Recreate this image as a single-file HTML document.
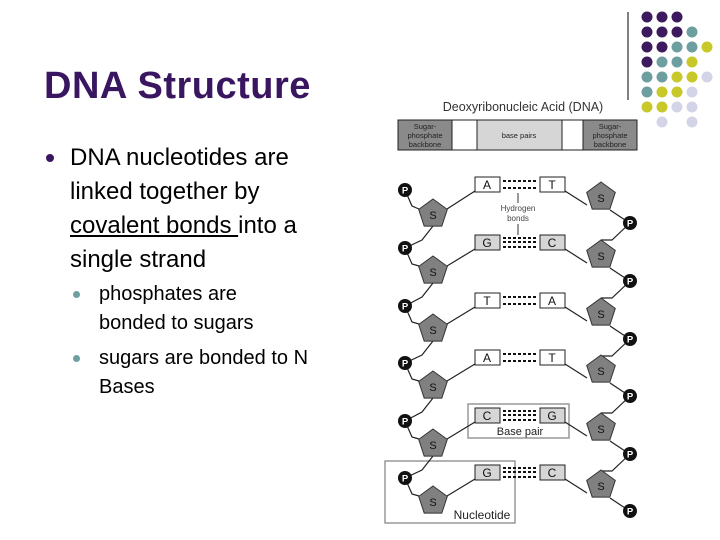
<!DOCTYPE html>
<html><head><meta charset="utf-8"><style>
body{margin:0;width:720px;height:540px;background:#fff;overflow:hidden;font-family:"Liberation Sans",sans-serif;position:relative}
.t{position:absolute;left:44px;top:65px;font-size:38px;font-weight:bold;color:#3a1560;letter-spacing:0.5px}
.m{position:absolute;left:70px;top:141px;font-size:24px;line-height:34px;color:#000}
.s{position:absolute;left:99px;font-size:20px;line-height:29px;color:#000}
.b1{position:absolute;left:46px;top:154px;width:8px;height:8px;border-radius:50%;background:#3a1560}
.b2{position:absolute;left:73px;width:7px;height:7px;border-radius:50%;background:#6e9fa0}
</style></head><body>
<div class="t">DNA Structure</div>
<div class="b1"></div>
<div class="m">DNA nucleotides are<br>linked together by<br><u>covalent bonds </u>into a<br>single strand</div>
<div class="b2" style="top:291px"></div>
<div class="b2" style="top:355px"></div>
<div class="s" style="top:280px">phosphates are<br>bonded to sugars</div>
<div class="s" style="top:344px">sugars are bonded to N<br>Bases</div>
<svg width="720" height="540" style="position:absolute;left:0;top:0" font-family="Liberation Sans,sans-serif">
<line x1="628" y1="12" x2="628" y2="100" stroke="#000" stroke-width="1"/>
<g>
<circle cx="647" cy="17" r="5.5" fill="#3d1a5e"/><circle cx="662" cy="17" r="5.5" fill="#3d1a5e"/><circle cx="677" cy="17" r="5.5" fill="#3d1a5e"/>
<circle cx="647" cy="32" r="5.5" fill="#3d1a5e"/><circle cx="662" cy="32" r="5.5" fill="#3d1a5e"/><circle cx="677" cy="32" r="5.5" fill="#3d1a5e"/><circle cx="692" cy="32" r="5.5" fill="#6e9fa0"/>
<circle cx="647" cy="47" r="5.5" fill="#3d1a5e"/><circle cx="662" cy="47" r="5.5" fill="#3d1a5e"/><circle cx="677" cy="47" r="5.5" fill="#6e9fa0"/><circle cx="692" cy="47" r="5.5" fill="#6e9fa0"/><circle cx="707" cy="47" r="5.5" fill="#c8c828"/>
<circle cx="647" cy="62" r="5.5" fill="#3d1a5e"/><circle cx="662" cy="62" r="5.5" fill="#6e9fa0"/><circle cx="677" cy="62" r="5.5" fill="#6e9fa0"/><circle cx="692" cy="62" r="5.5" fill="#c8c828"/>
<circle cx="647" cy="77" r="5.5" fill="#6e9fa0"/><circle cx="662" cy="77" r="5.5" fill="#6e9fa0"/><circle cx="677" cy="77" r="5.5" fill="#c8c828"/><circle cx="692" cy="77" r="5.5" fill="#c8c828"/><circle cx="707" cy="77" r="5.5" fill="#d4d4e8"/>
<circle cx="647" cy="92" r="5.5" fill="#6e9fa0"/><circle cx="662" cy="92" r="5.5" fill="#c8c828"/><circle cx="677" cy="92" r="5.5" fill="#c8c828"/><circle cx="692" cy="92" r="5.5" fill="#d4d4e8"/>
<circle cx="647" cy="107" r="5.5" fill="#c8c828"/><circle cx="662" cy="107" r="5.5" fill="#c8c828"/><circle cx="677" cy="107" r="5.5" fill="#d4d4e8"/><circle cx="692" cy="107" r="5.5" fill="#d4d4e8"/>
<circle cx="662" cy="122" r="5.5" fill="#d4d4e8"/><circle cx="692" cy="122" r="5.5" fill="#d4d4e8"/>
</g>
<text x="523" y="111" font-size="12.5" text-anchor="middle" fill="#333">Deoxyribonucleic Acid (DNA)</text>
<g stroke="#222" stroke-width="1">
<rect x="398" y="120" width="54" height="30" fill="#8a8a8a"/>
<rect x="452" y="120" width="25" height="30" fill="#fff"/>
<rect x="477" y="120" width="85" height="30" fill="#d6d6d6"/>
<rect x="562" y="120" width="21" height="30" fill="#fff"/>
<rect x="583" y="120" width="54" height="30" fill="#8a8a8a"/>
</g>
<g font-size="7.5" fill="#222" text-anchor="middle">
<text x="425" y="129">Sugar-</text><text x="425" y="138">phosphate</text><text x="425" y="147">backbone</text>
<text x="519" y="138">base pairs</text>
<text x="610" y="129">Sugar-</text><text x="610" y="138">phosphate</text><text x="610" y="147">backbone</text>
</g>
<text x="518" y="211" font-size="8" text-anchor="middle" fill="#444">Hydrogen</text>
<text x="518" y="221" font-size="8" text-anchor="middle" fill="#444">bonds</text>
<line x1="518" y1="193" x2="518" y2="203" stroke="#333"/><line x1="518" y1="224" x2="518" y2="235" stroke="#333"/>
<rect x="468" y="404" width="101" height="34" fill="none" stroke="#999" stroke-width="1.5"/>
<text x="520" y="435" font-size="11" text-anchor="middle" fill="#222">Base pair</text>
<rect x="385" y="461" width="130" height="62" fill="none" stroke="#999" stroke-width="1.5"/>
<text x="482" y="519" font-size="12" text-anchor="middle" fill="#222">Nucleotide</text>
<defs>
<polygon id="pent" points="0,-15 14.3,-4.6 8.8,12.1 -8.8,12.1 -14.3,-4.6" fill="#808080" stroke="#333" stroke-width="1"/>
<g id="ph"><circle r="7" fill="#111"/><text y="3.5" font-size="9.5" font-weight="bold" fill="#fff" text-anchor="middle">P</text></g>
</defs>
<g stroke="#222" stroke-width="1.2" fill="none">
<polyline points="405,190 412,206 419,209"/><polyline points="433,226 422,240 405,248"/>
<polyline points="405,248 412,264 419,266"/><polyline points="433,283 422,297 405,306"/>
<polyline points="405,306 412,322 419,324"/><polyline points="433,341 422,355 405,363"/>
<polyline points="405,363 412,379 419,381"/><polyline points="433,398 422,412 405,421"/>
<polyline points="405,421 412,437 419,439"/><polyline points="433,456 422,470 405,478"/>
<polyline points="405,478 412,494 419,496"/>
<line x1="447" y1="209" x2="475" y2="191"/><line x1="447" y1="266" x2="475" y2="249"/><line x1="447" y1="324" x2="475" y2="307"/><line x1="447" y1="381" x2="475" y2="364"/><line x1="447" y1="439" x2="475" y2="422"/><line x1="447" y1="496" x2="475" y2="479"/>
<line x1="565" y1="191" x2="587" y2="205"/><line x1="565" y1="249" x2="587" y2="263"/><line x1="565" y1="307" x2="587" y2="321"/><line x1="565" y1="364" x2="587" y2="378"/><line x1="565" y1="422" x2="587" y2="436"/><line x1="565" y1="479" x2="587" y2="493"/>
<polyline points="610,210 622,218 630,223"/><polyline points="630,223 612,240 601,240"/>
<polyline points="610,268 622,276 630,281"/><polyline points="630,281 612,298 601,298"/>
<polyline points="610,326 622,334 630,339"/><polyline points="630,339 612,356 601,356"/>
<polyline points="610,383 622,391 630,396"/><polyline points="630,396 612,413 601,413"/>
<polyline points="610,441 622,449 630,454"/><polyline points="630,454 612,471 601,471"/>
<polyline points="610,498 622,506 630,511"/>
</g>
<g>
<use href="#pent" x="433" y="214"/><use href="#pent" x="433" y="271"/><use href="#pent" x="433" y="329"/><use href="#pent" x="433" y="386"/><use href="#pent" x="433" y="444"/><use href="#pent" x="433" y="501"/>
<use href="#pent" x="601" y="197"/><use href="#pent" x="601" y="255"/><use href="#pent" x="601" y="313"/><use href="#pent" x="601" y="370"/><use href="#pent" x="601" y="428"/><use href="#pent" x="601" y="485"/>
</g>
<g font-size="11" fill="#111" text-anchor="middle">
<text x="433" y="219">S</text><text x="433" y="276">S</text><text x="433" y="334">S</text><text x="433" y="391">S</text><text x="433" y="449">S</text><text x="433" y="506">S</text>
<text x="601" y="202">S</text><text x="601" y="260">S</text><text x="601" y="318">S</text><text x="601" y="375">S</text><text x="601" y="433">S</text><text x="601" y="490">S</text>
</g>
<g>
<use href="#ph" x="405" y="190"/><use href="#ph" x="405" y="248"/><use href="#ph" x="405" y="306"/><use href="#ph" x="405" y="363"/><use href="#ph" x="405" y="421"/><use href="#ph" x="405" y="478"/>
<use href="#ph" x="630" y="223"/><use href="#ph" x="630" y="281"/><use href="#ph" x="630" y="339"/><use href="#ph" x="630" y="396"/><use href="#ph" x="630" y="454"/><use href="#ph" x="630" y="511"/>
</g>
<g stroke="#222" stroke-width="1">
<rect x="475" y="177" width="25" height="15" fill="#fff"/><rect x="540" y="177" width="25" height="15" fill="#fff"/>
<rect x="475" y="235" width="25" height="15" fill="#d6d6d6"/><rect x="540" y="235" width="25" height="15" fill="#d6d6d6"/>
<rect x="475" y="293" width="25" height="15" fill="#fff"/><rect x="540" y="293" width="25" height="15" fill="#fff"/>
<rect x="475" y="350" width="25" height="15" fill="#fff"/><rect x="540" y="350" width="25" height="15" fill="#fff"/>
<rect x="475" y="408" width="25" height="15" fill="#d6d6d6"/><rect x="540" y="408" width="25" height="15" fill="#d6d6d6"/>
<rect x="475" y="465" width="25" height="15" fill="#d6d6d6"/><rect x="540" y="465" width="25" height="15" fill="#d6d6d6"/>
</g>
<g stroke="#111" stroke-width="2" stroke-dasharray="3,2">
<line x1="503" y1="181" x2="537" y2="181"/><line x1="503" y1="188" x2="537" y2="188"/>
<line x1="503" y1="238" x2="537" y2="238"/><line x1="503" y1="242" x2="537" y2="242"/><line x1="503" y1="247" x2="537" y2="247"/>
<line x1="503" y1="297" x2="537" y2="297"/><line x1="503" y1="304" x2="537" y2="304"/>
<line x1="503" y1="354" x2="537" y2="354"/><line x1="503" y1="361" x2="537" y2="361"/>
<line x1="503" y1="411" x2="537" y2="411"/><line x1="503" y1="415" x2="537" y2="415"/><line x1="503" y1="420" x2="537" y2="420"/>
<line x1="503" y1="468" x2="537" y2="468"/><line x1="503" y1="472" x2="537" y2="472"/><line x1="503" y1="477" x2="537" y2="477"/>
</g>
<g font-size="12" fill="#111" text-anchor="middle">
<text x="487" y="189">A</text><text x="552" y="189">T</text>
<text x="487" y="247">G</text><text x="552" y="247">C</text>
<text x="487" y="305">T</text><text x="552" y="305">A</text>
<text x="487" y="362">A</text><text x="552" y="362">T</text>
<text x="487" y="420">C</text><text x="552" y="420">G</text>
<text x="487" y="477">G</text><text x="552" y="477">C</text>
</g>
</svg>
</body></html>
